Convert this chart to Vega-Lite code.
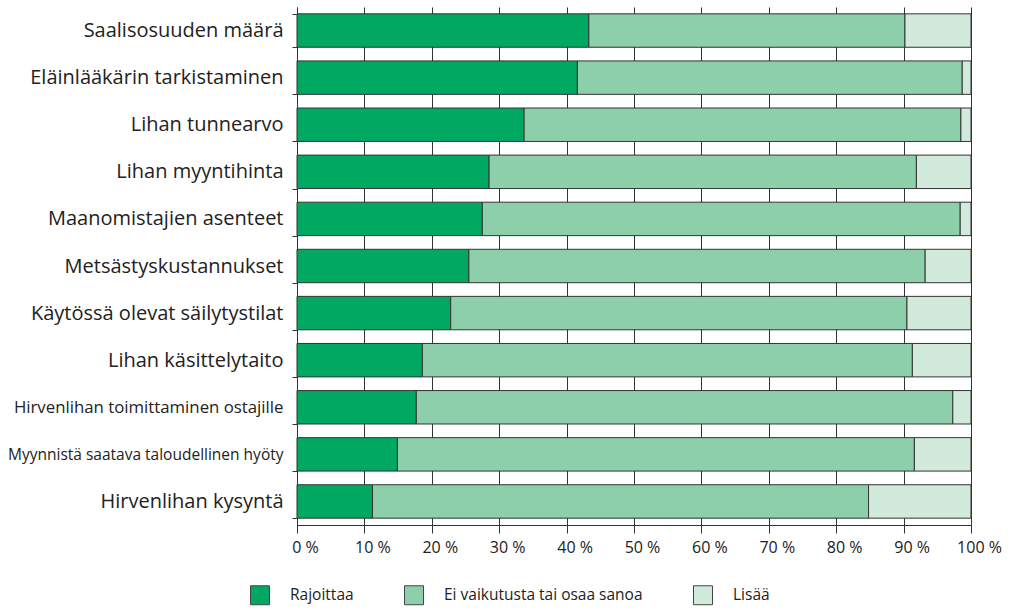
{
  "$schema": "https://vega.github.io/schema/vega-lite/v6.json",
  "width": 674,
  "height": 518,
  "autosize": {"type": "none"},
  "padding": {"left": 297, "top": 7, "right": 45, "bottom": 89},
  "background": "white",
  "config": {
    "view": {"stroke": null},
    "font": "Open Sans",
    "axis": {"domainColor": "#333333", "tickColor": "#333333", "labelColor": "#222222", "labelFont": "Open Sans"}
  },
  "data": {
    "values": [
      {"kohde": "Saalisosuuden määrä", "vastaus": "Rajoittaa", "o": 1, "p": 43.3},
      {"kohde": "Saalisosuuden määrä", "vastaus": "Ei vaikutusta tai osaa sanoa", "o": 2, "p": 46.9},
      {"kohde": "Saalisosuuden määrä", "vastaus": "Lisää", "o": 3, "p": 9.8},
      {"kohde": "Eläinlääkärin tarkistaminen", "vastaus": "Rajoittaa", "o": 1, "p": 41.6},
      {"kohde": "Eläinlääkärin tarkistaminen", "vastaus": "Ei vaikutusta tai osaa sanoa", "o": 2, "p": 57.1},
      {"kohde": "Eläinlääkärin tarkistaminen", "vastaus": "Lisää", "o": 3, "p": 1.3},
      {"kohde": "Lihan tunnearvo", "vastaus": "Rajoittaa", "o": 1, "p": 33.7},
      {"kohde": "Lihan tunnearvo", "vastaus": "Ei vaikutusta tai osaa sanoa", "o": 2, "p": 64.8},
      {"kohde": "Lihan tunnearvo", "vastaus": "Lisää", "o": 3, "p": 1.5},
      {"kohde": "Lihan myyntihinta", "vastaus": "Rajoittaa", "o": 1, "p": 28.5},
      {"kohde": "Lihan myyntihinta", "vastaus": "Ei vaikutusta tai osaa sanoa", "o": 2, "p": 63.4},
      {"kohde": "Lihan myyntihinta", "vastaus": "Lisää", "o": 3, "p": 8.1},
      {"kohde": "Maanomistajien asenteet", "vastaus": "Rajoittaa", "o": 1, "p": 27.5},
      {"kohde": "Maanomistajien asenteet", "vastaus": "Ei vaikutusta tai osaa sanoa", "o": 2, "p": 70.9},
      {"kohde": "Maanomistajien asenteet", "vastaus": "Lisää", "o": 3, "p": 1.6},
      {"kohde": "Metsästyskustannukset", "vastaus": "Rajoittaa", "o": 1, "p": 25.5},
      {"kohde": "Metsästyskustannukset", "vastaus": "Ei vaikutusta tai osaa sanoa", "o": 2, "p": 67.7},
      {"kohde": "Metsästyskustannukset", "vastaus": "Lisää", "o": 3, "p": 6.8},
      {"kohde": "Käytössä olevat säilytystilat", "vastaus": "Rajoittaa", "o": 1, "p": 22.8},
      {"kohde": "Käytössä olevat säilytystilat", "vastaus": "Ei vaikutusta tai osaa sanoa", "o": 2, "p": 67.7},
      {"kohde": "Käytössä olevat säilytystilat", "vastaus": "Lisää", "o": 3, "p": 9.5},
      {"kohde": "Lihan käsittelytaito", "vastaus": "Rajoittaa", "o": 1, "p": 18.6},
      {"kohde": "Lihan käsittelytaito", "vastaus": "Ei vaikutusta tai osaa sanoa", "o": 2, "p": 72.7},
      {"kohde": "Lihan käsittelytaito", "vastaus": "Lisää", "o": 3, "p": 8.7},
      {"kohde": "Hirvenlihan toimittaminen ostajille", "vastaus": "Rajoittaa", "o": 1, "p": 17.7},
      {"kohde": "Hirvenlihan toimittaminen ostajille", "vastaus": "Ei vaikutusta tai osaa sanoa", "o": 2, "p": 79.6},
      {"kohde": "Hirvenlihan toimittaminen ostajille", "vastaus": "Lisää", "o": 3, "p": 2.7},
      {"kohde": "Myynnistä saatava taloudellinen hyöty", "vastaus": "Rajoittaa", "o": 1, "p": 14.9},
      {"kohde": "Myynnistä saatava taloudellinen hyöty", "vastaus": "Ei vaikutusta tai osaa sanoa", "o": 2, "p": 76.7},
      {"kohde": "Myynnistä saatava taloudellinen hyöty", "vastaus": "Lisää", "o": 3, "p": 8.4},
      {"kohde": "Hirvenlihan kysyntä", "vastaus": "Rajoittaa", "o": 1, "p": 11.2},
      {"kohde": "Hirvenlihan kysyntä", "vastaus": "Ei vaikutusta tai osaa sanoa", "o": 2, "p": 73.6},
      {"kohde": "Hirvenlihan kysyntä", "vastaus": "Lisää", "o": 3, "p": 15.2}
    ]
  },
  "mark": {"type": "bar", "stroke": "#333333", "strokeWidth": 1},
  "encoding": {
    "y": {
      "field": "kohde",
      "type": "nominal",
      "sort": null,
      "scale": {"paddingInner": 0.29, "paddingOuter": 0.145},
      "axis": {
        "title": null,
        "grid": false,
        "tickBand": "extent",
        "tickSize": 5,
        "tickColor": "#333333",
        "tickWidth": 1,
        "labelPadding": 9,
        "labelFontSize": {"expr": "datum.label == 'Hirvenlihan toimittaminen ostajille' ? 16.8 : datum.label == 'Myynnistä saatava taloudellinen hyöty' ? 15.5 : 20"},
        "labelLimit": 400,
        "domainColor": "#333333"
      }
    },
    "x": {
      "field": "p",
      "type": "quantitative",
      "stack": "zero",
      "scale": {"domain": [0, 100], "nice": false},
      "axis": {
        "title": null,
        "values": [0, 10, 20, 30, 40, 50, 60, 70, 80, 90, 100],
        "labelExpr": "datum.value + ' %'",
        "grid": true,
        "gridColor": "#333333",
        "gridWidth": 1,
        "gridOpacity": 1,
        "tickSize": 8,
        "tickColor": "#333333",
        "labelPadding": 6,
        "labelFontSize": 16,
        "labelOffset": 8,
        "labelFlush": false
      }
    },
    "color": {
      "field": "vastaus",
      "type": "nominal",
      "sort": ["Rajoittaa", "Ei vaikutusta tai osaa sanoa", "Lisää"],
      "scale": {"domain": ["Rajoittaa", "Ei vaikutusta tai osaa sanoa", "Lisää"], "range": ["#00a862", "#8dcfaa", "#d2eadc"]},
      "legend": {
        "title": null,
        "orient": "none",
        "direction": "horizontal",
        "legendX": -47,
        "legendY": 578,
        "symbolType": "square",
        "symbolSize": 360,
        "symbolStrokeColor": "#444444",
        "symbolStrokeWidth": 1,
        "symbolOpacity": 1,
        "labelFontSize": 15.5,
        "labelFont": "Open Sans",
        "labelColor": "#222222",
        "labelOffset": 20,
        "labelLimit": 400,
        "columnPadding": 48
      }
    },
    "order": {"field": "o", "type": "quantitative"}
  }
}
